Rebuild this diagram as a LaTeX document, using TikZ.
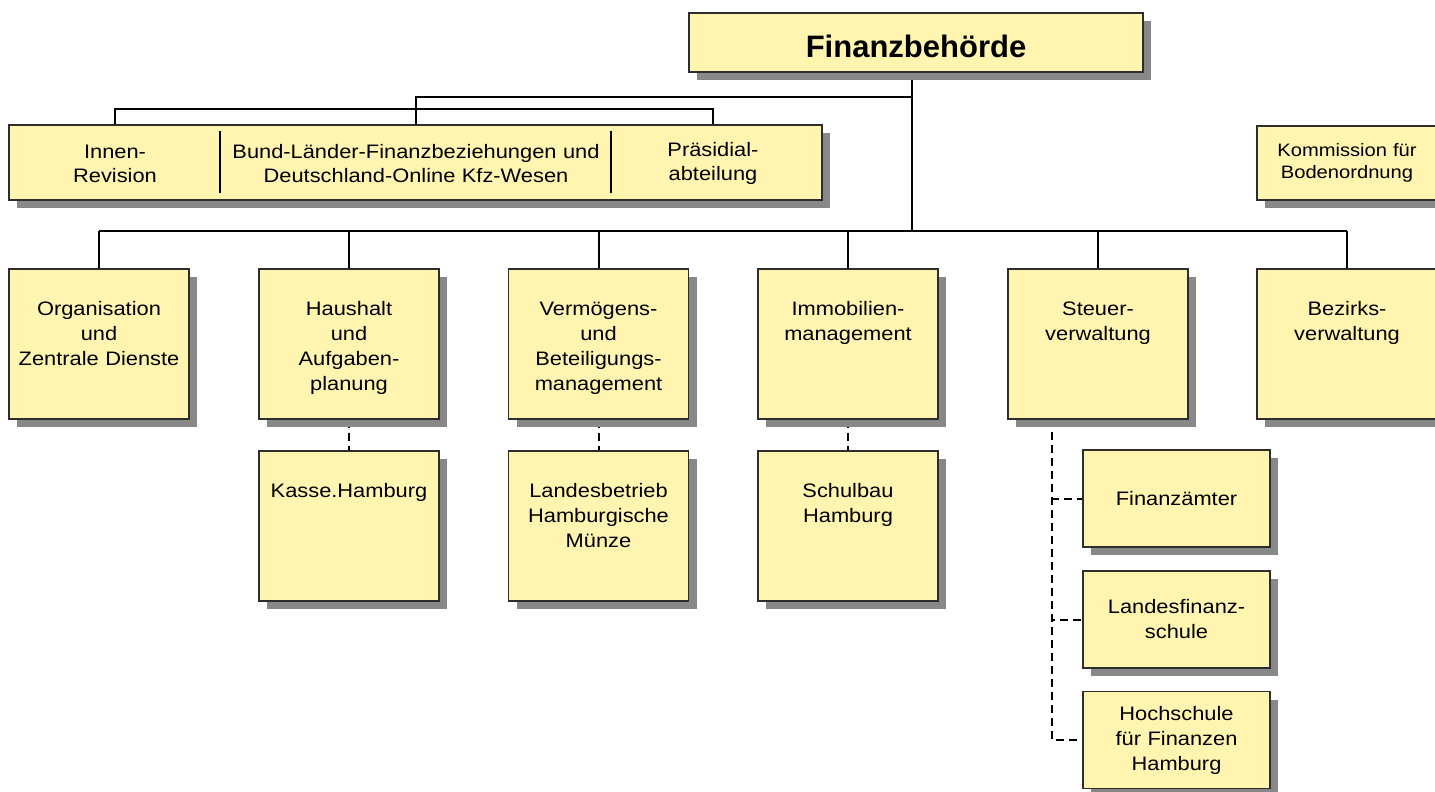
\documentclass[tikz,border=0pt]{standalone}
\usepackage{fontspec}
\setmainfont{Liberation Sans}[FakeStretch=1.12]
\newfontfamily\titlefont{Liberation Sans}
\usetikzlibrary{shadows,backgrounds}
\definecolor{boxfill}{RGB}{255,245,176}
\definecolor{boxline}{RGB}{45,45,45}
\definecolor{shadowgray}{RGB}{136,136,136}
\begin{document}
\begin{tikzpicture}[x=1pt,y=-1pt,
  orgbox/.style={draw=boxline,fill=boxfill,line width=1.2pt,inner sep=0pt,
    drop shadow={shadow xshift=8pt,shadow yshift=-8pt,fill=shadowgray,opacity=1}},
  unit/.style={orgbox,minimum width=180pt,minimum height=150pt,text width=176pt,
    align=center,text height=46pt,text depth=104pt,font=\fontsize{19.5}{25}\selectfont},
  school/.style={orgbox,minimum width=187pt,minimum height=97pt,text width=180pt,
    align=center,font=\fontsize{19.5}{25}\selectfont},
  stafftext/.style={text width=#1,align=center,inner sep=0pt,font=\fontsize{19.5}{24}\selectfont},
  conn/.style={line width=2pt},
  dconn/.style={line width=2pt,dash pattern=on 8pt off 5pt},
]
\useasboundingbox (0,0) rectangle (1435,792);

% Behoerdenleitung
\node[orgbox,minimum width=454pt,minimum height=59pt,text height=30pt,text depth=0pt,
  font=\titlefont\bfseries\fontsize{31}{36}\selectfont] (fb) at (916,42.5) {Finanzbehörde};

% Stabsstellen
\node[orgbox,minimum width=813pt,minimum height=75pt] (stab) at (415.5,162.5) {};
\node[stafftext=200pt] (innen) at (115,163.5) {Innen-\\Revision};
\node[stafftext=380pt] (bund) at (416,163.5) {Bund-Länder-Finanzbeziehungen und\\Deutschland-Online Kfz-Wesen};
\node[stafftext=180pt] (praes) at (713,163.5) {Präsidial-\\abteilung};
\draw[conn] (220,131) -- (220,193);
\draw[conn] (611,131) -- (611,193);

\node[orgbox,minimum width=180pt,minimum height=74pt,text width=176pt,align=center,
  font=\fontsize{18}{22}\selectfont] (komm) at (1347,163) {Kommission für\\Bodenordnung};

% Aemter
\node[unit] (org) at (99,344) {Organisation\\und\\Zentrale Dienste};
\node[unit] (haus) at (349,344) {Haushalt\\und\\Aufgaben-\\planung};
\node[unit] (verm) at (598.5,344) {Vermögens-\\und\\Beteiligungs-\\management};
\node[unit] (immo) at (848,344) {Immobilien-\\management};
\node[unit] (steu) at (1098,344) {Steuer-\\verwaltung};
\node[unit] (bez) at (1347,344) {Bezirks-\\verwaltung};

% Betriebe
\node[unit] (kasse) at (349,526) {Kasse.Hamburg};
\node[unit] (lbm) at (598.5,526) {Landesbetrieb\\Hamburgische\\Münze};
\node[unit] (sbh) at (848,526) {Schulbau\\Hamburg};

\node[school] (fa) at (1176.5,498.5) {Finanzämter};
\node[school] (lfs) at (1176.5,619.5) {Landesfinanz-\\schule};
\node[school] (hff) at (1176.5,740) {Hochschule\\für Finanzen\\Hamburg};

% Verbindungen
\begin{scope}[on background layer]
  \coordinate (j1) at (912,97);
  \coordinate (j2) at (912,231);
  \coordinate (sx) at (1052,419);
  \draw[conn] (fb.south -| j1) -- (j2);
  \draw[conn] (j1) -| (stab.north -| bund);
  \draw[conn] (stab.north -| innen) |- ++(0,-15) -| (stab.north -| praes);
  \foreach \u in {org,haus,verm,immo,steu,bez}
    \draw[conn] (\u.north) -- (\u.north |- j2);
  \draw[conn] (org.north |- j2) -- (bez.north |- j2);
  \draw[dconn] (haus.south) -- (kasse.north);
  \draw[dconn] (verm.south) -- (lbm.north);
  \draw[dconn] (immo.south) -- (sbh.north);
  \foreach \s in {fa,lfs,hff}
    \draw[dconn] (sx) |- (\s.west);
\end{scope}
\end{tikzpicture}
\end{document}
